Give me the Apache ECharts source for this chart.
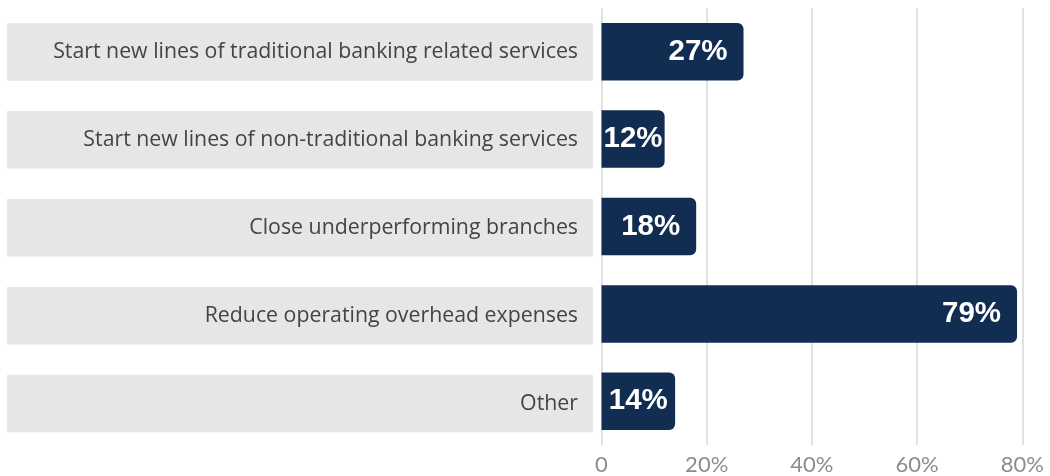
<!DOCTYPE html>
<html>
<head>
<meta charset="utf-8">
<script src="https://cdn.jsdelivr.net/npm/echarts@6/dist/echarts.min.js"></script>
<style>
  html, body { margin: 0; padding: 0; background: #ffffff; }
  #chart { width: 1050px; height: 476px; }
</style>
</head>
<body>
<div id="chart"></div>
<script>
// Survey responses: planned actions, share of respondents (%)
const categories = [
  'Start new lines of traditional banking related services',
  'Start new lines of non-traditional banking services',
  'Close underperforming branches',
  'Reduce operating overhead expenses',
  'Other'
];
const values = [27, 12, 18, 79, 14];
const xTicks = [0, 20, 40, 60, 80];

const NAVY = '#112d52';
const GRID_TOP = 8;
const GRID_HEIGHT = 439.5;
const PLOT_LEFT = 601.5;
const PLOT_RIGHT = 27.7;
const X_MAX = xTicks[xTicks.length - 1];
const pxPerUnit = (1050 - PLOT_LEFT - PLOT_RIGHT) / X_MAX;

const chart = echarts.init(document.getElementById('chart'), null, { renderer: 'canvas' });

// Bars too short for a right-aligned label get the label centred instead
const barData = values.map(v => {
  const short = v * pxPerUnit < 85;
  return {
    value: v,
    label: short ? { position: 'inside' } : { position: 'insideRight', distance: 16 }
  };
});

chart.setOption({
  animation: false,
  grid: [
    { left: 7, width: 586, top: GRID_TOP, height: GRID_HEIGHT },
    { left: PLOT_LEFT, right: PLOT_RIGHT, top: GRID_TOP, height: GRID_HEIGHT }
  ],
  xAxis: [
    { gridIndex: 0, type: 'value', min: 0, max: 1, show: false },
    {
      gridIndex: 1, type: 'value', min: 0, max: X_MAX, interval: 20,
      axisLine: { show: false }, axisTick: { show: false },
      splitLine: { show: true, lineStyle: { color: '#d9d9d9', width: 1.5 } },
      axisLabel: {
        margin: 9,
        color: '#8c8c8c', fontFamily: 'Lato', fontWeight: 'normal', fontSize: 22,
        formatter: v => (v === 0 ? '0' : v + '%')
      }
    }
  ],
  yAxis: [
    { gridIndex: 0, type: 'category', data: categories, inverse: true, show: false },
    { gridIndex: 1, type: 'category', data: categories, inverse: true, show: false }
  ],
  series: [
    {
      // grey label panels
      type: 'bar', xAxisIndex: 0, yAxisIndex: 0,
      data: categories.map(() => 1),
      barWidth: 57.5,
      silent: true,
      itemStyle: { color: '#e6e6e6' },
      label: {
        show: true, position: 'insideRight', distance: 15,
        color: '#444444', fontFamily: 'Open Sans', fontSize: 21.3,
        padding: [3, 0, 0, 0],
        formatter: p => categories[p.dataIndex]
      }
    },
    {
      type: 'bar', xAxisIndex: 1, yAxisIndex: 1,
      data: barData,
      barWidth: 57.5,
      itemStyle: { color: NAVY, borderRadius: [0, 6, 6, 0] },
      label: {
        show: true,
        color: '#ffffff', fontFamily: 'Liberation Sans', fontWeight: 'bold', fontSize: 29.5,
        padding: [7, 0, 0, 0],
        formatter: p => p.value + '%'
      }
    }
  ]
});
</script>
</body>
</html>
